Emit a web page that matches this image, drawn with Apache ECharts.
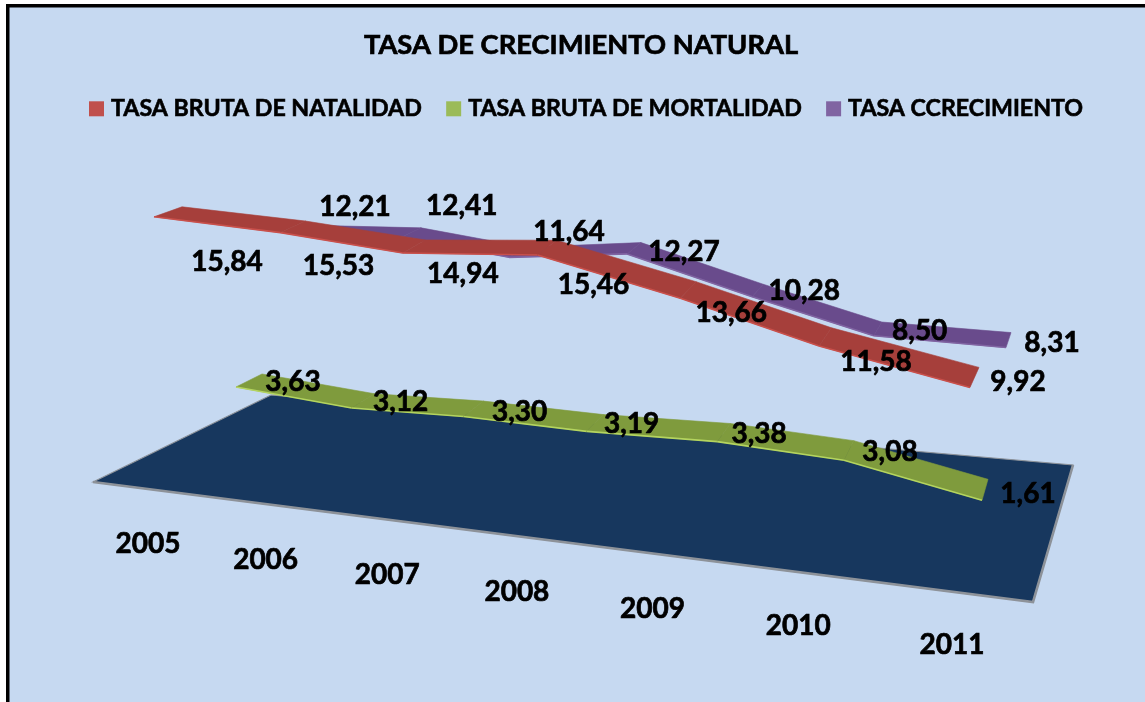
<!DOCTYPE html>
<html><head><meta charset="utf-8">
<style>html,body{margin:0;padding:0;background:#fff}#c{width:1145px;height:702px}</style>
<script src="https://cdn.jsdelivr.net/npm/echarts@6/dist/echarts.min.js"></script>
</head><body><div id="c"></div>
<script>
// ---- data ----
const years = ['2005','2006','2007','2008','2009','2010','2011'];
const natalidad = [15.84,15.53,14.94,15.46,13.66,11.58,9.92];
const mortalidad = [3.63,3.12,3.30,3.19,3.38,3.08,1.61];
const crecimiento = [12.21,12.41,11.64,12.27,10.28,8.50,8.31];
const nameNat = 'TASA BRUTA DE NATALIDAD';
const nameMor = 'TASA BRUTA DE MORTALIDAD';
const nameCre = 'TASA CCRECIMIENTO';

// ---- faux 3D projection applied to the pixels returned by the axis scales ----
const FONT = 'Lato';
const GRID = {left:0, width:1145, top:100, height:350};   // 0..20 -> 17.5 px per unit
const warp = [0,.155,.305,.47,.645,.815,1];               // perspective spacing of categories
const proj = {
  nat:{x0:154,x1:970,dy:44,  slope:67,bx0:28,bx1:9,by0:-10,by1:-20,fill:'#a63f3b',edge:'#c9504b',legend:'#c0504d'},
  mor:{x0:236,x1:982,dy:0.5, slope:78,bx0:26,bx1:6,by0:-13,by1:-21,fill:'#7f9b3d',edge:'#b4d45f',legend:'#9bbb59'},
  cre:{x0:291,x1:1006,dy:-3, slope:46,bx0:22,bx1:5,by0:-8,by1:-15,fill:'#694b8c',edge:'#8064a2',legend:'#8064a2'},
  year:{x0:148,x1:952,dy:94, slope:101}
};
const labelShift = {
  nat:[[73,45],[58,33],[60,21],[56,30],[51,15],[57,16],[48,-5]],
  mor:[[57,-5],[49,-6],[56,-5],[45,-7],[42,-8],[46,-8],[46,-6]],
  cre:[[64,-26],[60,-31],[60,-25],[57,-2],[52,-6],[46,-5],[46,-5]],
  year:[[0,0],[-7,0],[-6,0],[-9,0],[-14,0],[-5,0],[0,0]]
};

function project(p, c, back){
  const i = Math.round((c[0]-GRID.left)/GRID.width*6);
  const t = warp[i];
  let x = p.x0+(p.x1-p.x0)*t, y = c[1]+p.dy+p.slope*t;
  if(back){ x += p.bx0+(p.bx1-p.bx0)*t; y += p.by0+(p.by1-p.by0)*t; }
  return [x,y];
}
function ribbon(name,key,values,z){
  const p = proj[key];
  return {
    type:'custom', name, z, clip:false, silent:true,
    itemStyle:{color:p.legend},
    encode:{x:0,y:1},
    data:values.map((v,i)=>[i,v,i<values.length-1?values[i+1]:v]),
    renderItem(params,api){
      const i = api.value(0);
      if(i>=values.length-1) return {type:'group',children:[]};
      const a = api.coord([i,api.value(1)]), b = api.coord([i+1,api.value(2)]);
      const f1 = project(p,a), f2 = project(p,b), b1 = project(p,a,true), b2 = project(p,b,true);
      return {type:'group',children:[
        {type:'polygon',shape:{points:[f1,f2,b2,b1]},style:{fill:p.fill,stroke:p.fill,lineWidth:.6}},
        {type:'line',shape:{x1:f1[0],y1:f1[1],x2:f2[0],y2:f2[1]},style:{stroke:p.edge,lineWidth:1.6}}
      ]};
    }
  };
}
function labels(key,values,texts){
  const p = proj[key], sh = labelShift[key];
  return {
    type:'custom', name:'etiquetas-'+key, z:10, clip:false, silent:true,
    encode:{x:0,y:1},
    data:values.map((v,i)=>[i,v]),
    renderItem(params,api){
      const i = api.value(0);
      const q = project(p,api.coord([i,api.value(1)]));
      return {type:'text',x:q[0]+sh[i][0],y:q[1]+sh[i][1],
        style:{text:texts[i],font:'700 28px '+FONT,fill:'#000',align:'center',verticalAlign:'middle',
          stroke:'#000',lineWidth:.7}};
    }
  };
}
const fmt = v => v.toFixed(2).replace('.',',');

const floorPts = [[93,482],[271,395],[1073,465],[1033,602]];
const chart = echarts.init(document.getElementById('c'));
chart.setOption({
  animation:false,
  backgroundColor:'#fff',
  title:{text:'TASA DE CRECIMIENTO NATURAL',left:576,top:27,textAlign:'center',
    textStyle:{fontFamily:FONT,fontWeight:700,fontSize:27.3,color:'#000',textBorderColor:'#000',textBorderWidth:.7}},
  legend:{left:84,top:92,itemWidth:15,itemHeight:15,itemGap:24,icon:'rect',selectedMode:false,
    data:[nameNat,nameMor,nameCre],
    textStyle:{fontFamily:FONT,fontWeight:700,fontSize:23.2,color:'#000',padding:[0,0,0,2],textBorderColor:'#000',textBorderWidth:.6}},
  grid:Object.assign({containLabel:false},GRID),
  xAxis:{type:'value',min:0,max:6,interval:1,show:false},
  yAxis:{type:'value',min:0,max:20,interval:5,show:false},
  graphic:[
    {type:'rect',z:-5,shape:{x:6,y:4,width:1139,height:698},style:{fill:'#c6d9f1'}},
    {type:'rect',z:-4,shape:{x:6,y:4,width:1139,height:3.5},style:{fill:'#000'}},
    {type:'rect',z:-4,shape:{x:6,y:4,width:3.5,height:698},style:{fill:'#000'}},
    {type:'polygon',z:-3,shape:{points:floorPts},style:{fill:'#17375e',stroke:'#8d9299',lineWidth:1.2,lineJoin:'miter'}},
    {type:'polyline',z:-3,shape:{points:[floorPts[2],floorPts[3],floorPts[0]]},style:{fill:'none',stroke:'#8d9299',lineWidth:2.6}}
  ],
  series:[
    ribbon(nameCre,'cre',crecimiento,2),
    ribbon(nameMor,'mor',mortalidad,3),
    ribbon(nameNat,'nat',natalidad,4),
    labels('cre',crecimiento,crecimiento.map(fmt)),
    labels('mor',mortalidad,mortalidad.map(fmt)),
    labels('nat',natalidad,natalidad.map(fmt)),
    labels('year',years.map(()=>0),years)
  ]
});
</script></body></html>
